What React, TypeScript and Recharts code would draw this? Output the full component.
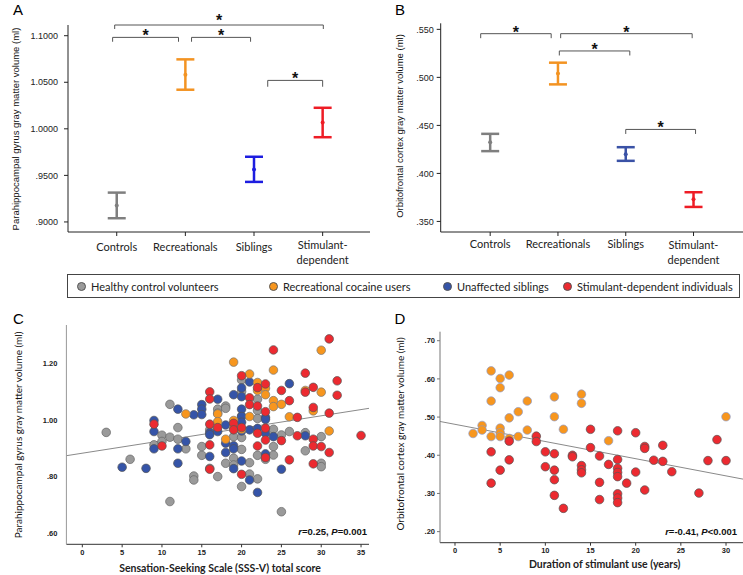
import React from 'react';
import { ScatterChart, Scatter, XAxis, YAxis, ErrorBar, ReferenceLine, ReferenceDot } from 'recharts';

const GROUPS = ['Controls', 'Recreationals', 'Siblings', 'Stimulant-\ndependent'];
const LEGEND_LABELS = [
  'Healthy control volunteers',
  'Recreational cocaine users',
  'Unaffected siblings',
  'Stimulant-dependent individuals',
];

// A: parahippocampal gyrus, group mean and error bar ends (ml)
const A_MEAN = [0.9176, 1.058, 0.9563, 1.0068];
const A_LOW = [0.904, 1.042, 0.943, 0.991];
const A_HIGH = [0.9315, 1.0746, 0.97, 1.0226];
const A_TICKS = [0.9, 0.95, 1.0, 1.05, 1.1];
const A_BRACKETS = [
  { from: 0.97, to: 4.01, y: 1.1115, drop: 0.0043, star: 1.1152 },
  { from: 0.94, to: 1.9, y: 1.0982, drop: 0.0047, star: 1.0982 },
  { from: 2.09, to: 2.95, y: 1.0982, drop: 0.0047, star: 1.0982 },
  { from: 3.2, to: 4.0, y: 1.052, drop: 0.0068, star: 1.052 },
];

// B: orbitofrontal cortex
const B_MEAN = [0.4325, 0.504, 0.42, 0.3731];
const B_LOW = [0.4232, 0.4927, 0.4131, 0.3651];
const B_HIGH = [0.4412, 0.5153, 0.4273, 0.3804];
const B_TICKS = [0.35, 0.4, 0.45, 0.5, 0.55];
const B_BRACKETS = [
  { from: 0.86, to: 1.9, y: 0.5455, drop: 0.0047, star: 0.5455 },
  { from: 2.04, to: 3.98, y: 0.5455, drop: 0.0047, star: 0.5455 },
  { from: 2.02, to: 3.06, y: 0.5275, drop: 0.0047, star: 0.5275 },
  { from: 3.0, to: 4.03, y: 0.4458, drop: 0.0047, star: 0.4458 },
];

// C: SSS-V score vs parahippocampal volume
const C_CONTROLS = [
  [3, 0.956], [6, 0.861], [9, 0.912], [10, 0.946], [10, 0.924], [11, 1.055], [11, 0.939], [11, 0.712],
  [12, 0.973], [12, 0.932], [13, 0.898], [14, 0.802], [14, 0.788], [15, 0.906], [15, 0.875], [16, 0.965],
  [16, 0.829], [17, 1.038], [17, 1.024], [17, 0.8], [18, 1.049], [18, 1.041], [18, 0.847], [19, 0.941],
  [19, 0.865], [19, 0.841], [20, 1.141], [20, 1.1], [20, 1.014], [20, 0.938], [20, 0.896], [20, 0.765],
  [21, 0.849], [21, 0.809], [22, 1.073], [22, 1.033], [22, 1.005], [22, 0.875], [22, 0.792], [23, 0.861],
  [24, 0.967], [24, 0.906], [24, 0.876], [25, 0.947], [25, 0.676], [26, 0.959], [28, 0.955], [28, 0.891],
  [30, 0.941], [30, 0.847], [30, 0.835],
];
const C_SIBLINGS = [
  [5, 0.833], [8, 0.829], [9, 0.998], [9, 0.959], [9, 0.898], [12, 1.038], [12, 0.898], [12, 0.847],
  [13, 0.924], [14, 1.018], [15, 1.054], [15, 1.038], [15, 1.019], [16, 0.955], [16, 0.948], [16, 0.871],
  [17, 1.073], [17, 0.959], [18, 0.982], [18, 0.918], [18, 0.885], [19, 1.089], [19, 0.909], [19, 0.898],
  [19, 0.828], [20, 1.113], [20, 1.082], [20, 1.038], [20, 1.012], [20, 0.992], [20, 0.961], [20, 0.855],
  [21, 1.134], [21, 0.965], [21, 0.788], [22, 0.97], [22, 0.744], [23, 1.009], [23, 1.002], [23, 0.953],
  [23, 0.88], [24, 0.941], [25, 0.826], [26, 1.128], [28, 0.944],
];
const C_RECREATIONAL = [
  [13, 1.021], [17, 1.021], [17, 0.994], [18, 0.932], [19, 1.204], [19, 0.998], [19, 0.973], [20, 0.967],
  [21, 1.162], [21, 1.012], [22, 1.132], [22, 1.104], [23, 1.112], [23, 1.089], [24, 1.176], [24, 1.068],
  [24, 1.047], [25, 1.055], [26, 1.011], [28, 1.104], [29, 1.032], [30, 1.246], [30, 1.098], [31, 0.961],
];
const C_DEPENDENT = [
  [9, 0.985], [10, 0.908], [16, 1.099], [16, 1.074], [16, 0.985], [16, 0.912], [16, 0.826], [17, 0.973],
  [19, 0.988], [19, 0.965], [20, 1.156], [20, 0.973], [20, 0.808], [21, 1.078], [21, 1.054], [22, 1.114],
  [22, 1.049], [22, 0.953], [22, 0.908], [23, 1.127], [23, 1.029], [23, 0.971], [23, 0.929], [23, 0.867],
  [24, 1.247], [25, 1.104], [25, 0.927], [26, 1.068], [26, 0.859], [27, 1.009], [27, 0.944], [28, 1.165],
  [28, 1.098], [29, 1.115], [29, 1.044], [29, 0.932], [29, 0.908], [29, 0.845], [30, 0.906], [31, 1.286],
  [31, 1.024], [31, 0.885], [32, 1.138], [32, 1.087], [35, 0.945],
];
const C_FIT = { intercept: 0.8825, slope: 0.0044 };
const C_X_TICKS = [0, 5, 10, 15, 20, 25, 30, 35];
const C_Y_TICKS = [0.6, 0.8, 1.0, 1.2];

// D: years of stimulant use vs orbitofrontal volume
const D_RECREATIONAL = [
  [2, 0.457], [3, 0.478], [3, 0.466], [4, 0.621], [4, 0.542], [4, 0.449], [5, 0.601], [5, 0.577],
  [5, 0.471], [5, 0.459], [5, 0.449], [6, 0.61], [6, 0.498], [6, 0.444], [7, 0.514], [7, 0.449],
  [8, 0.542], [8, 0.466], [11, 0.553], [11, 0.501], [12, 0.468], [14, 0.56], [14, 0.536], [17, 0.438],
  [30, 0.501],
];
const D_DEPENDENT = [
  [4, 0.409], [4, 0.327], [5, 0.361], [6, 0.437], [6, 0.388], [9, 0.45], [9, 0.436], [10, 0.409],
  [10, 0.37], [11, 0.404], [11, 0.361], [11, 0.336], [11, 0.295], [12, 0.261], [13, 0.4], [13, 0.396],
  [14, 0.373], [14, 0.362], [14, 0.354], [15, 0.468], [15, 0.42], [16, 0.398], [16, 0.329], [16, 0.284],
  [17, 0.376], [18, 0.464], [18, 0.389], [18, 0.366], [18, 0.355], [18, 0.344], [18, 0.299], [18, 0.288],
  [18, 0.276], [19, 0.327], [20, 0.459], [20, 0.356], [21, 0.423], [21, 0.418], [21, 0.309], [22, 0.387],
  [23, 0.426], [23, 0.384], [24, 0.357], [27, 0.301], [28, 0.386], [29, 0.441], [30, 0.386],
];
const D_FIT = { intercept: 0.481, slope: -0.0045 };
const D_X_TICKS = [0, 5, 10, 15, 20, 25, 30];
const D_Y_TICKS = [0.2, 0.3, 0.4, 0.5, 0.6, 0.7];

const ARIAL = '"Liberation Sans", Arial, sans-serif';
const SANS = 'Lato, "Open Sans", sans-serif';

const COLORS_A = ['#7f7f7f', '#f39322', '#1d1de0', '#ee1c25'];
const COLORS_B = ['#7f7f7f', '#f39322', '#3a52a6', '#ee1c25'];
const DOT = {
  control: '#9a9a9a',
  recreational: '#f7961e',
  sibling: '#3554a8',
  dependent: '#ec2a30',
};

const noLead = (digits: number) => (v: number) => v.toFixed(digits).replace(/^0/, '');

function GroupTick(props: any) {
  const { x, y, payload, lift } = props;
  const lines = (GROUPS[payload.value - 1] || '').split('\n');
  const first = lines.length > 1 ? 10.5 : lift;
  return (
    <text x={x} y={y} textAnchor="middle" fontFamily={SANS} fontSize={11} fill="#222">
      {lines.map((l, i) => (
        <tspan key={i} x={x} dy={i === 0 ? first : 15}>{l}</tspan>
      ))}
    </text>
  );
}

function bracketMarks(brackets: any[], prefix: string) {
  return brackets.flatMap((b, i) => [
    <ReferenceLine key={`${prefix}h${i}`} segment={[{ x: b.from, y: b.y }, { x: b.to, y: b.y }]} stroke="#555" ifOverflow="visible" />,
    <ReferenceLine key={`${prefix}l${i}`} segment={[{ x: b.from, y: b.y }, { x: b.from, y: b.y - b.drop }]} stroke="#555" ifOverflow="visible" />,
    <ReferenceLine key={`${prefix}r${i}`} segment={[{ x: b.to, y: b.y }, { x: b.to, y: b.y - b.drop }]} stroke="#555" ifOverflow="visible" />,
    <ReferenceDot
      key={`${prefix}s${i}`}
      x={(b.from + b.to) / 2}
      y={b.star}
      r={0}
      ifOverflow="visible"
      shape={(p: any) => (
        <text x={p.cx} y={p.cy + 4} textAnchor="middle" fontFamily={ARIAL} fontWeight="bold" fontSize={16} fill="#111">*</text>
      )}
    />,
  ]);
}

function MeansPanel(props: any) {
  const { left, width, mean, low, high, colors, yTicks, yDomain, xDomain, fmt, brackets, margin, yWidth, yTickMargin, lift, id } = props;
  return (
    <div style={{ position: 'absolute', left, top: 0 }}>
      <ScatterChart width={width} height={275} margin={margin}>
        <XAxis
          type="number"
          dataKey="x"
          domain={xDomain}
          allowDataOverflow
          ticks={[1, 2, 3, 4]}
          interval={0}
          tick={(p: any) => <GroupTick {...p} lift={lift} />}
          tickSize={4}
          tickMargin={2}
          height={40}
          stroke="#222"
        />
        <YAxis
          type="number"
          dataKey="y"
          domain={yDomain}
          allowDataOverflow
          ticks={yTicks}
          interval={0}
          tickFormatter={fmt}
          width={yWidth}
          tickSize={4}
          tickMargin={yTickMargin}
          stroke="#222"
          tick={{ fontSize: 9, fill: '#222', fontFamily: ARIAL }}
        />
        {GROUPS.map((g, i) => (
          <Scatter
            key={g}
            data={[{ x: i + 1, y: mean[i], err: [mean[i] - low[i], high[i] - mean[i]] }]}
            fill={colors[i]}
            isAnimationActive={false}
            shape={(p: any) => <circle cx={p.cx} cy={p.cy} r={2} fill={colors[i]} />}
          >
            <ErrorBar dataKey="err" direction="y" width={9} stroke={colors[i]} strokeWidth={2.5} isAnimationActive={false} />
          </Scatter>
        ))}
        {bracketMarks(brackets, id)}
      </ScatterChart>
    </div>
  );
}

function ScatterPanel(props: any) {
  const { left, width, margin, series, fit, xDomain, yDomain, xTicks, yTicks, yWidth, yColor, yTickLine, yTickSize, yTickMargin } = props;
  const fitLine = xDomain.map((x: number) => ({ x, y: fit.intercept + fit.slope * x }));
  return (
    <div style={{ position: 'absolute', left, top: 300 }}>
      <ScatterChart width={width} height={275} margin={margin}>
        <XAxis
          type="number"
          dataKey="x"
          domain={xDomain}
          allowDataOverflow
          ticks={xTicks}
          interval={0}
          tickSize={3}
          tickMargin={2}
          height={25}
          stroke="#333"
          tick={{ fontSize: 7.5, fontWeight: 'bold', fill: '#222', fontFamily: ARIAL }}
        />
        <YAxis
          type="number"
          dataKey="y"
          domain={yDomain}
          allowDataOverflow
          ticks={yTicks}
          interval={0}
          tickFormatter={noLead(2)}
          width={yWidth}
          tickLine={yTickLine}
          tickSize={yTickSize}
          tickMargin={yTickMargin}
          stroke={yColor}
          tick={{ fontSize: 7.5, fontWeight: 'bold', fill: '#222', fontFamily: ARIAL }}
        />
        {series.map((s: any) => (
          <Scatter
            key={s.name}
            data={s.points.map((p: number[]) => ({ x: p[0], y: p[1] }))}
            isAnimationActive={false}
            shape={(p: any) => (
              <circle cx={p.cx} cy={p.cy} r={4.3} fill={s.color} stroke={s.edge} strokeWidth={0.7} />
            )}
          />
        ))}
        <ReferenceLine segment={fitLine} stroke="#8a8a8a" strokeWidth={1} ifOverflow="visible" />
      </ScatterChart>
    </div>
  );
}

const abs = (x: number, y: number, extra: React.CSSProperties = {}): React.CSSProperties => ({
  position: 'absolute',
  left: x,
  top: y,
  transform: 'translate(-50%, -50%)',
  whiteSpace: 'nowrap',
  lineHeight: 1,
  ...extra,
});

const vert = (x: number, y: number, extra: React.CSSProperties = {}): React.CSSProperties => ({
  ...abs(x, y, extra),
  transform: 'translate(-50%, -50%) rotate(-90deg)',
});

export default function App() {
  const legendColors = [DOT.control, DOT.recreational, DOT.sibling, DOT.dependent];
  const legendX = [13, 205, 379, 499];
  return (
    <div style={{ position: 'absolute', left: 0, top: 0, width: 743, height: 575, background: '#fff', overflow: 'hidden' }}>
      <MeansPanel
        id="a"
        left={0}
        width={372}
        margin={{ top: 25, right: 2, bottom: 3, left: 8 }}
        yWidth={60}
        yTickMargin={6}
        lift={13.3}
        mean={A_MEAN}
        low={A_LOW}
        high={A_HIGH}
        colors={COLORS_A}
        yTicks={A_TICKS}
        yDomain={[0.8892, 1.1115]}
        xDomain={[0.29, 4.69]}
        fmt={noLead(4)}
        brackets={A_BRACKETS}
      />
      <MeansPanel
        id="b"
        left={375}
        width={368}
        margin={{ top: 23.3, right: 0, bottom: 3, left: 5.7 }}
        yWidth={60}
        yTickMargin={3}
        lift={10.3}
        mean={B_MEAN}
        low={B_LOW}
        high={B_HIGH}
        colors={COLORS_B}
        yTicks={B_TICKS}
        yDomain={[0.339, 0.5563]}
        xDomain={[0.27, 4.73]}
        fmt={noLead(3)}
        brackets={B_BRACKETS}
      />
      <ScatterPanel
        left={0}
        width={372}
        margin={{ top: 25, right: 3, bottom: 5.7, left: 8.4 }}
        yWidth={58}
        yColor="#999"
        yTickLine={false}
        yTickSize={4}
        yTickMargin={5}
        series={[
          { name: 'control', points: C_CONTROLS, color: DOT.control, edge: '#666' },
          { name: 'sibling', points: C_SIBLINGS, color: DOT.sibling, edge: '#555' },
          { name: 'recreational', points: C_RECREATIONAL, color: DOT.recreational, edge: '#777' },
          { name: 'dependent', points: C_DEPENDENT, color: DOT.dependent, edge: '#555' },
        ]}
        fit={C_FIT}
        xDomain={[-2, 36]}
        yDomain={[0.561, 1.335]}
        xTicks={C_X_TICKS}
        yTicks={C_Y_TICKS}
      />
      <ScatterPanel
        left={372}
        width={371}
        margin={{ top: 31.7, right: 0, bottom: 7.3, left: 8 }}
        yWidth={60}
        yColor="#777"
        yTickLine={true}
        yTickSize={3}
        yTickMargin={2}
        series={[
          { name: 'recreational', points: D_RECREATIONAL, color: DOT.recreational, edge: '#8e9bc9' },
          { name: 'dependent', points: D_DEPENDENT, color: DOT.dependent, edge: '#555' },
        ]}
        fit={D_FIT}
        xDomain={[-1.66, 31.88]}
        yDomain={[0.171, 0.7236]}
        xTicks={D_X_TICKS}
        yTicks={D_Y_TICKS}
      />

      {/* panel letters */}
      <div style={abs(18, 9, { fontFamily: ARIAL, fontSize: 15 })}>A</div>
      <div style={abs(400, 9, { fontFamily: ARIAL, fontSize: 15 })}>B</div>
      <div style={abs(18.5, 317.5, { fontFamily: ARIAL, fontSize: 15 })}>C</div>
      <div style={abs(400, 318, { fontFamily: ARIAL, fontSize: 15 })}>D</div>

      {/* axis titles */}
      <div style={vert(16, 129, { fontFamily: ARIAL, fontSize: 9.5, color: '#111' })}>Parahippocampal gyrus gray matter volume (ml)</div>
      <div style={vert(400, 126, { fontFamily: ARIAL, fontSize: 9.5, color: '#111' })}>Orbitofrontal cortex gray matter volume (ml)</div>
      <div style={vert(18, 435, { fontFamily: SANS, fontSize: 10, color: '#111' })}>Parahippocampal gyrus gray matter volume (ml)</div>
      <div style={vert(400, 434, { fontFamily: SANS, fontSize: 10, color: '#111' })}>Orbitofrontal cortex gray matter volume (ml)</div>
      <div style={abs(220, 567.5, { fontFamily: SANS, fontSize: 10.5, fontWeight: 'bold', color: '#222' })}>Sensation-Seeking Scale (SSS-V) total score</div>
      <div style={abs(604.7, 564, { fontFamily: SANS, fontSize: 10.5, fontWeight: 'bold', color: '#222' })}>Duration of stimulant use (years)</div>

      {/* correlation notes */}
      <div style={{ position: 'absolute', right: 743 - 367, top: 526, fontFamily: ARIAL, fontSize: 9.5, fontWeight: 'bold', color: '#111', whiteSpace: 'nowrap' }}>
        <i>r</i>=0.25, <i>P</i>=0.001
      </div>
      <div style={{ position: 'absolute', right: 743 - 737, top: 526, fontFamily: ARIAL, fontSize: 9.5, fontWeight: 'bold', color: '#111', whiteSpace: 'nowrap' }}>
        <i>r</i>=-0.41, <i>P</i>&lt;0.001
      </div>

      {/* shared legend */}
      <div style={{ position: 'absolute', left: 67, top: 274, width: 673, height: 24, border: '1px solid #444', boxSizing: 'border-box' }}>
        {LEGEND_LABELS.map((label, i) => (
          <div key={label} style={{ position: 'absolute', left: legendX[i] - 4, top: 0, height: 22, display: 'flex', alignItems: 'center', gap: 5, whiteSpace: 'nowrap' }}>
            <span style={{ display: 'inline-block', width: 7, height: 7, borderRadius: '50%', background: legendColors[i], border: '0.5px solid #555' }} />
            <span style={{ fontFamily: SANS, fontSize: 11, color: '#222' }}>{label}</span>
          </div>
        ))}
      </div>
    </div>
  );
}
